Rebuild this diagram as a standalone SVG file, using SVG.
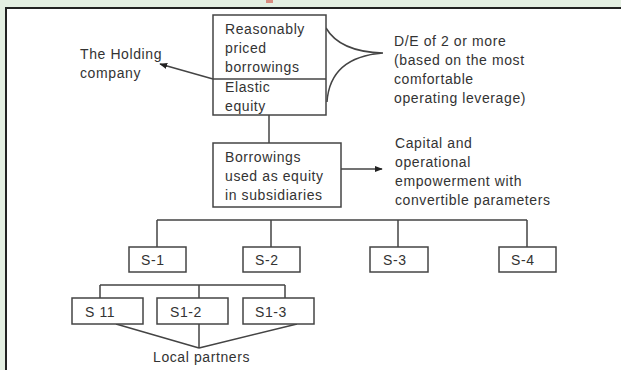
<svg xmlns="http://www.w3.org/2000/svg" width="621" height="370" viewBox="0 0 621 370">
<style>
text{font-family:"Liberation Sans",Arial,sans-serif;font-size:14px;fill:#333;letter-spacing:0.6px}
.box{fill:#fff;stroke:#444;stroke-width:1.5}
.ln{fill:none;stroke:#444;stroke-width:1.5}
</style>
<defs>
<marker id="ah" viewBox="0 0 10 10" refX="9" refY="5" markerWidth="8" markerHeight="8" markerUnits="userSpaceOnUse" orient="auto">
<path d="M0,1 L10,5 L0,9 z" fill="#222"/>
</marker>
</defs>
<rect width="621" height="370" fill="#e4efe2"/>
<rect x="6" y="8" width="615" height="362" fill="#fff"/>
<path d="M6,370 V8 H621" fill="none" stroke="#222" stroke-width="2"/>
<rect x="266" y="0" width="7" height="3" fill="#d98c80"/>

<g id="connectors">
<path class="ln" d="M213,79 L160,64" marker-end="url(#ah)"/>
<path class="ln" d="M326,28 Q340,52 383,53 M327,102 Q330,57 383,53"/>
<path class="ln" d="M269,115 V143"/>
<path class="ln" d="M341,169 H382" marker-end="url(#ah)"/>
<path class="ln" d="M157,220 H527 M157,220 V247 M271,220 V247 M398,220 V247 M527,220 V247"/>
<path class="ln" d="M100,285 H285 M100,285 V298 M199,285 V298 M285,285 V298"/>
<path class="ln" d="M116,324 L199,348 M199,324 V348 M297,324 L199,348"/>
</g>

<g id="holding"><text x="80" y="59">The Holding</text><text x="80" y="78">company</text></g>

<g id="topbox">
<rect class="box" x="213" y="15" width="113" height="100"/>
<path class="ln" d="M213,79 H326"/>
<text x="225" y="34">Reasonably</text>
<text x="225" y="53">priced</text>
<text x="225" y="72">borrowings</text>
<text x="225" y="92">Elastic</text>
<text x="225" y="111">equity</text>
</g>

<g id="de"><text x="394" y="46">D/E of 2 or more</text><text x="394" y="65">(based on the most</text><text x="394" y="84">comfortable</text><text x="394" y="103">operating leverage)</text></g>

<g id="borrow">
<rect class="box" x="213" y="143" width="128" height="64"/>
<text x="225" y="162">Borrowings</text>
<text x="225" y="181">used as equity</text>
<text x="225" y="200">in subsidiaries</text>
</g>

<g id="capital"><text x="395" y="148">Capital and</text><text x="395" y="167">operational</text><text x="395" y="186">empowerment with</text><text x="395" y="205">convertible parameters</text></g>

<g id="s1"><rect class="box" x="129" y="247" width="57" height="25"/><text x="141" y="265">S-1</text></g>
<g id="s2"><rect class="box" x="243" y="247" width="57" height="25"/><text x="255" y="265">S-2</text></g>
<g id="s3"><rect class="box" x="370" y="247" width="58" height="25"/><text x="383" y="265">S-3</text></g>
<g id="s4"><rect class="box" x="499" y="247" width="57" height="25"/><text x="511" y="265">S-4</text></g>

<g id="s11"><rect class="box" x="72" y="298" width="71" height="26"/><text x="85" y="317">S 11</text></g>
<g id="s12"><rect class="box" x="157" y="298" width="71" height="26"/><text x="170" y="317">S1-2</text></g>
<g id="s13"><rect class="box" x="243" y="298" width="71" height="26"/><text x="255" y="317">S1-3</text></g>

<g id="local"><text x="153" y="362">Local partners</text></g>
</svg>
